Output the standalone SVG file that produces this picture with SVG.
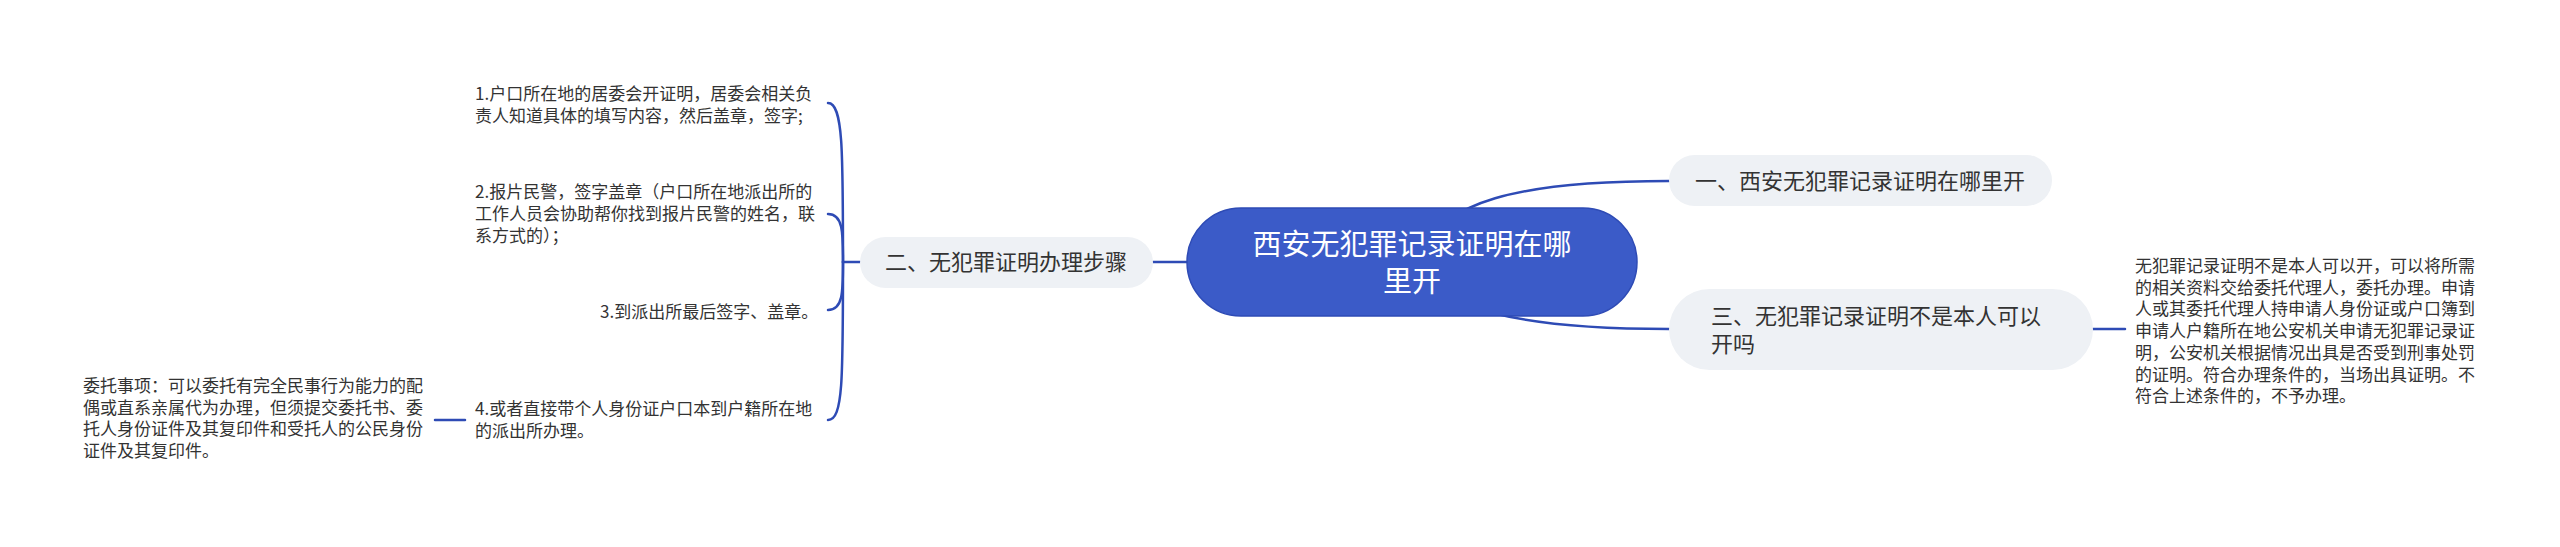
<svg xmlns="http://www.w3.org/2000/svg" width="2560" height="547" viewBox="0 0 2560 547">
<style>
text{font-family:"Noto Sans CJK SC","Microsoft YaHei",sans-serif;fill:#333333}
.sm{font-size:17px}
.md{font-size:22px}
.root{font-size:29px;fill:#ffffff;text-anchor:middle}
.conn{fill:none;stroke:#2E4BB5;stroke-width:2.5;stroke-linecap:round}
.box{fill:#EEF1F5}
</style>
<rect width="2560" height="547" fill="#ffffff"/>
<g id="connectors">
<path class="conn" d="M1412 262 C1440 200 1520 181 1669 181"/>
<path class="conn" d="M1412 262 C1440 310 1520 329 1669 329"/>
<path class="conn" d="M1187 262 L1153 262"/>
<path class="conn" d="M2093 329 L2125 329"/>
<path class="conn" d="M860 262 L843 262"/>
<path class="conn" d="M843 262 C843 150 843 103 828 103"/>
<path class="conn" d="M843 262 C843 232 843 214 828 214"/>
<path class="conn" d="M843 262 C843 292 843 310 828 310"/>
<path class="conn" d="M843 262 C843 380 843 420 828 420"/>
<path class="conn" d="M465 420 L435 420"/>
</g>
<g id="root">
<rect x="1187" y="208" width="450" height="108" rx="54" fill="#3B5BC8" stroke="#2E4BB5" stroke-width="1.5"/>
<text class="root" x="1412" y="255">西安无犯罪记录证明在哪</text>
<text class="root" x="1412" y="292">里开</text>
</g>
<g id="node1">
<rect class="box" x="1669" y="155" width="383" height="51" rx="25.5"/>
<text class="md" x="1695" y="189">一、西安无犯罪记录证明在哪里开</text>
</g>
<g id="node3">
<rect class="box" x="1669" y="289" width="424" height="81" rx="40.5"/>
<text class="md" x="1711" y="324">三、无犯罪记录证明不是本人可以</text>
<text class="md" x="1711" y="352">开吗</text>
</g>
<g id="node3-detail">
<text class="sm" x="2135" y="272">无犯罪记录证明不是本人可以开，可以将所需</text>
<text class="sm" x="2135" y="293.7">的相关资料交给委托代理人，委托办理。申请</text>
<text class="sm" x="2135" y="315.4">人或其委托代理人持申请人身份证或户口簿到</text>
<text class="sm" x="2135" y="337.1">申请人户籍所在地公安机关申请无犯罪记录证</text>
<text class="sm" x="2135" y="358.8">明，公安机关根据情况出具是否受到刑事处罚</text>
<text class="sm" x="2135" y="380.5">的证明。符合办理条件的，当场出具证明。不</text>
<text class="sm" x="2135" y="402.2">符合上述条件的，不予办理。</text>
</g>
<g id="node2">
<rect class="box" x="860" y="237" width="293" height="51" rx="25.5"/>
<text class="md" x="885" y="270">二、无犯罪证明办理步骤</text>
</g>
<g id="step1">
<text class="sm" x="475" y="100">1.户口所在地的居委会开证明，居委会相关负</text>
<text class="sm" x="475" y="122">责人知道具体的填写内容，然后盖章，签字;</text>
</g>
<g id="step2">
<text class="sm" x="475" y="198">2.报片民警，签字盖章（户口所在地派出所的</text>
<text class="sm" x="475" y="220">工作人员会协助帮你找到报片民警的姓名，联</text>
<text class="sm" x="475" y="242">系方式的）；</text>
</g>
<g id="step3">
<text class="sm" x="600" y="318">3.到派出所最后签字、盖章。</text>
</g>
<g id="step4">
<text class="sm" x="475" y="415">4.或者直接带个人身份证户口本到户籍所在地</text>
<text class="sm" x="475" y="437">的派出所办理。</text>
</g>
<g id="step4-detail">
<text class="sm" x="83" y="392">委托事项：可以委托有完全民事行为能力的配</text>
<text class="sm" x="83" y="413.7">偶或直系亲属代为办理，但须提交委托书、委</text>
<text class="sm" x="83" y="435.4">托人身份证件及其复印件和受托人的公民身份</text>
<text class="sm" x="83" y="457.1">证件及其复印件。</text>
</g>
</svg>
